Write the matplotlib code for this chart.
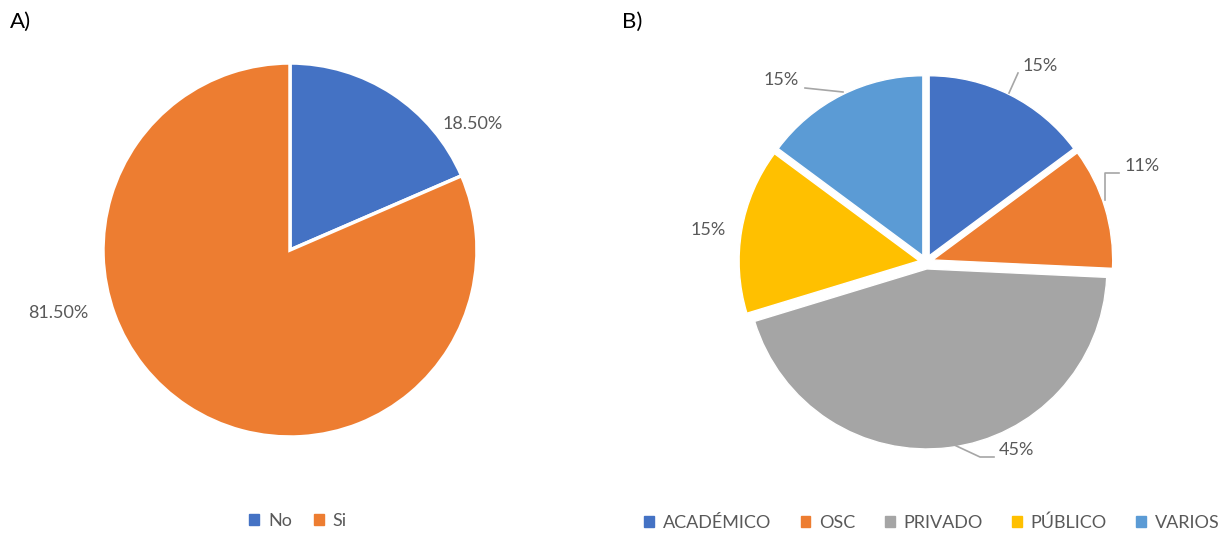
import matplotlib.pyplot as plt
from matplotlib.patches import Patch

# chart A
a_labels = ["No", "Si"]
a_values = [18.5, 81.5]
a_text = ["18.50%", "81.50%"]
a_colors = ["#4472C4", "#ED7D31"]

# chart B
b_labels = ["ACADÉMICO", "OSC", "PRIVADO", "PÚBLICO", "VARIOS"]
b_values = [15, 11, 45, 15, 15]
b_text = ["15%", "11%", "45%", "15%", "15%"]
b_colors = ["#4472C4", "#ED7D31", "#A5A5A5", "#FFC000", "#5B9BD5"]

W, H = 1228, 535
plt.rcParams['font.family'] = ['Lato', 'DejaVu Sans']
txt_color = "#595959"

fig = plt.figure(figsize=(W / 100, H / 100), dpi=100)
ax = fig.add_axes([0, 0, 1, 1])


def reset_axes():
    # pixel coords, y pointing down
    ax.set_xlim(0, W)
    ax.set_ylim(H, 0)
    ax.set_aspect('auto')
    ax.axis('off')


# pie A  (y is inverted, so start at -90 and go "counterclock" = clockwise on screen)
ca, ra = (290, 250), 187
ax.pie(a_values, colors=a_colors, startangle=-90, counterclock=True,
       center=ca, radius=ra, frame=True,
       wedgeprops=dict(edgecolor="white", linewidth=2.5))
reset_axes()

a_pos = [(473, 124), (58, 313)]
for t, (x, y) in zip(a_text, a_pos):
    ax.text(x, y, t, ha='center', va='center', fontsize=13, color=txt_color)

# pie B (explode is in pixels here)
cb, rb = (926, 262), 180
ax.pie(b_values, colors=b_colors, startangle=-90, counterclock=True,
       center=cb, radius=rb, frame=True, explode=[7] * 5,
       wedgeprops=dict(edgecolor="white", linewidth=1))
reset_axes()

b_pos = [(1040, 66), (1142, 166), (1016, 450), (708, 230), (781, 80)]
for t, (x, y) in zip(b_text, b_pos):
    ax.text(x, y, t, ha='center', va='center', fontsize=13, color=txt_color)

leaders = [
    [(1009, 93), (1018, 73)],
    [(1105, 200), (1105, 173), (1119, 173)],
    [(950, 443), (980, 457), (994, 457)],
    [(805, 88), (843, 92)],
]
for pts in leaders:
    xs, ys = zip(*pts)
    ax.plot(xs, ys, color="#A6A6A6", linewidth=1.2)

ax.text(10, 22, "A)", fontsize=16, ha='left', va='center', color="black")
ax.text(622, 22, "B)", fontsize=16, ha='left', va='center', color="black")

hA = [Patch(color=c, label=l) for c, l in zip(a_colors, a_labels)]
fig.legend(handles=hA, loc='center', bbox_to_anchor=(298 / W, 1 - 521 / H),
           ncol=2, frameon=False, fontsize=13, handlelength=0.55, handleheight=0.55,
           handletextpad=0.5, columnspacing=1.2, labelcolor=txt_color)
hB = [Patch(color=c, label=l) for c, l in zip(b_colors, b_labels)]
fig.legend(handles=hB, loc='center', bbox_to_anchor=(932 / W, 1 - 523 / H),
           ncol=5, frameon=False, fontsize=13, handlelength=0.55, handleheight=0.55,
           handletextpad=0.5, columnspacing=1.6, labelcolor=txt_color)

fig.savefig("out.png", dpi=100)
